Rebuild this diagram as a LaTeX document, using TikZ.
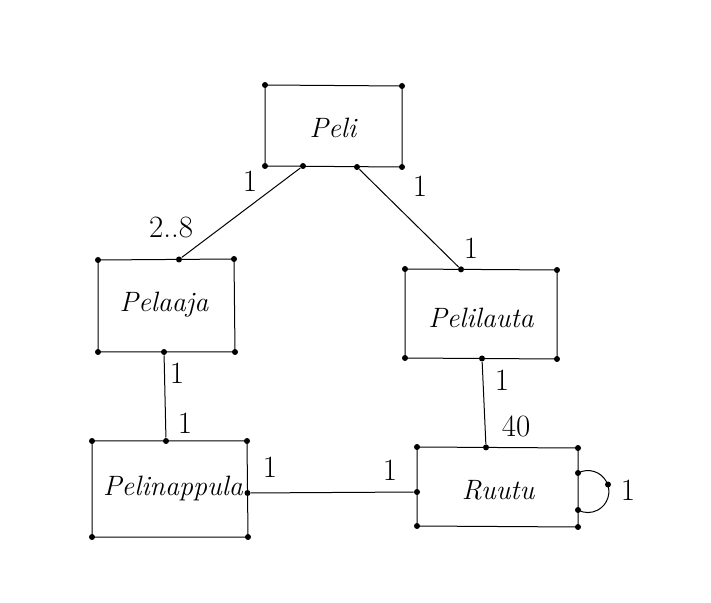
\documentclass[tikz,border=0pt]{standalone}
\usepackage{tikz}
\usetikzlibrary{positioning}

\begin{document}
\begin{tikzpicture}[
        x=0.5pt, y=-0.5pt,
        line width=0.5pt,
        dot/.style={circle, fill, inner sep=0pt, minimum size=3pt},
        title/.style={font=\fontsize{14}{17}\selectfont\itshape},
        mult/.style={font=\fontsize{15.5}{18}\selectfont}
    ]
        \useasboundingbox (0,0) rectangle (711,603);

        % Corner and joint points
        \node[dot] (peliA) at (265,85) {};
        \node[dot] (peliB) at (402,86) {};
        \node[dot] (peliC) at (265,166) {};
        \node[dot] (peliD) at (402,167) {};
        \node[dot] (peliL) at (303,166) {};
        \node[dot] (peliR) at (357,167) {};

        \node[dot] (pelaajaA) at (98,260) {};
        \node[dot] (pelaajaB) at (234,259) {};
        \node[dot] (pelaajaC) at (98,352) {};
        \node[dot] (pelaajaD) at (235,352) {};
        \node[dot] (pelaajaT) at (179,259.5) {};
        \node[dot] (pelaajaS) at (164,352) {};

        \node[dot] (lautaA) at (405,269) {};
        \node[dot] (lautaB) at (557,270) {};
        \node[dot] (lautaC) at (405,358) {};
        \node[dot] (lautaD) at (557,359) {};
        \node[dot] (lautaT) at (461,269.4) {};
        \node[dot] (lautaS) at (482,358.5) {};

        \node[dot] (nappulaA) at (92,441) {};
        \node[dot] (nappulaB) at (247,441) {};
        \node[dot] (nappulaC) at (92,537) {};
        \node[dot] (nappulaD) at (248,537) {};
        \node[dot] (nappulaT) at (166,441) {};
        \node[dot] (nappulaR) at (247.5,493) {};

        \node[dot] (ruutuA) at (417,447) {};
        \node[dot] (ruutuB) at (578,448) {};
        \node[dot] (ruutuC) at (417,526) {};
        \node[dot] (ruutuD) at (578,527) {};
        \node[dot] (ruutuT) at (486,447.4) {};
        \node[dot] (ruutuL) at (417,492) {};
        \node[dot] (ruutuU) at (578,473) {};
        \node[dot] (ruutuV) at (578,510) {};
        \node[dot] (ruutuK) at (608,484.5) {};

        % Boxes
        \draw (peliA.center) -- (peliB.center) -- (peliD.center) -- (peliC.center) -- cycle;
        \draw (pelaajaA.center) -- (pelaajaB.center) -- (pelaajaD.center) -- (pelaajaC.center) -- cycle;
        \draw (lautaA.center) -- (lautaB.center) -- (lautaD.center) -- (lautaC.center) -- cycle;
        \draw (nappulaA.center) -- (nappulaB.center) -- (nappulaD.center) -- (nappulaC.center) -- cycle;
        \draw (ruutuA.center) -- (ruutuB.center) -- (ruutuD.center) -- (ruutuC.center) -- cycle;

        % Names
        \node[title] (peli) at (333,128) {Peli};
        \node[title] (pelaaja) at (164,305) {Pelaaja};
        \node[title] (pelilauta) at (481,318) {Pelilauta};
        \node[title] (pelinappula) at (173,488) {Pelinappula};
        \node[title] (ruutu) at (498,490) {Ruutu};

        % Links
        \draw (peliL) -- (pelaajaT);
        \draw (peliR) -- (lautaT);
        \draw (pelaajaS) -- (nappulaT);
        \draw (lautaS) -- (ruutuT);
        \draw (nappulaR) -- (ruutuL);
        \draw (ruutuU.center) arc[start angle=-118, end angle=118, radius=21];

        % Multiplicities
        \node[mult] at (250,181) {1};
        \node[mult] at (171,228) {2..8};
        \node[mult] at (420,186) {1};
        \node[mult] at (471,248) {1};
        \node[mult] at (177,373) {1};
        \node[mult] at (185,423) {1};
        \node[mult] at (502,380) {1};
        \node[mult] at (516,426) {40};
        \node[mult] at (270,467) {1};
        \node[mult] at (390,470) {1};
        \node[mult] at (628,490) {1};
    \end{tikzpicture}
\end{document}
